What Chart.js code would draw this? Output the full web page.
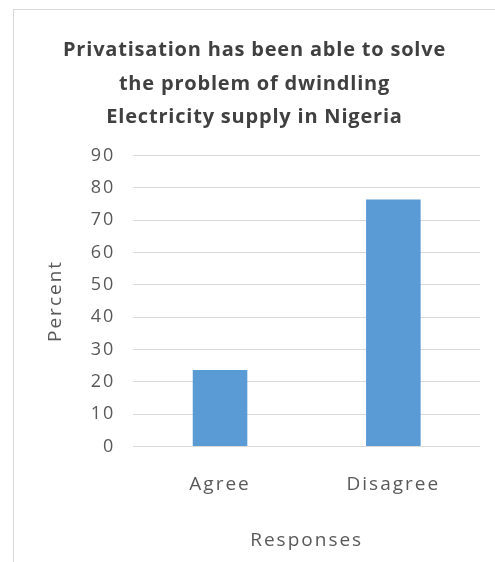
<!DOCTYPE html>
<html>
<head>
<meta charset="utf-8">
<script src="https://cdn.jsdelivr.net/npm/chart.js@4"></script>
<style>
  html, body { margin: 0; padding: 0; background: #fff; }
  #wrap { position: relative; width: 495px; height: 562px; overflow: hidden; }
  #frame { position: absolute; left: 13px; top: 9px; width: 500px; height: 600px;
           border-left: 1px solid #d9d9d9; border-top: 1px solid #d9d9d9; }
  #chart { position: absolute; left: 0; top: 0; }
</style>
</head>
<body>
<div id="wrap">
  <div id="frame"></div>
  <canvas id="chart" width="495" height="562"></canvas>
</div>
<script>
const categories = ['Agree', 'Disagree'];
const percentValues = [23.6, 76.4];
const titleLines = [
  'Privatisation has been able to solve',
  'the problem of dwindling',
  'Electricity supply in Nigeria'
];
const yMax = 90;
const yStep = 10;

const textColor = '#595959';
const fontFamily = "'Open Sans', 'Liberation Sans', sans-serif";

// axis text is spaced out a little; the title is centred on the whole frame
const textSpacing = {
  id: 'textSpacing',
  beforeDraw(chart) {
    const block = chart.titleBlock;
    if (block && !block._spaced) {
      const draw = block.draw.bind(block);
      block.draw = function () {
        const ctx = chart.ctx;
        const prev = ctx.letterSpacing;
        ctx.save();
        ctx.translate(8, 1);
        ctx.letterSpacing = '0.8px';
        draw();
        ctx.restore();
        ctx.letterSpacing = prev;
      };
      block._spaced = true;
    }
    chart.ctx.letterSpacing = '2px';
  },
  afterDraw(chart) {
    chart.ctx.letterSpacing = '0px';
  }
};

const dataResponses = {
  labels: categories,
  datasets: [{
    label: 'Percent',
    data: percentValues,
    backgroundColor: '#5b9bd5',
    borderWidth: 0,
    barPercentage: 1,
    categoryPercentage: 0.315
  }]
};

const configResponses = {
  type: 'bar',
  data: dataResponses,
  plugins: [textSpacing],
  options: {
    responsive: false,
    animation: false,
    layout: {
      padding: { left: 13, right: 15, top: 0, bottom: 10 }
    },
    scales: {
      x: {
        grid: { display: false, drawTicks: false },
        border: { display: false },
        ticks: {
          color: textColor,
          font: { family: fontFamily, size: 19 },
          padding: 27
        },
        title: {
          display: true,
          text: 'Responses',
          color: textColor,
          font: { family: fontFamily, size: 19 },
          padding: { top: 6, bottom: 0 }
        }
      },
      y: {
        min: 0,
        max: yMax,
        border: { display: false },
        grid: { color: '#d9d9d9', lineWidth: 1, drawTicks: false },
        ticks: {
          stepSize: yStep,
          color: textColor,
          font: { family: fontFamily, size: 18 },
          padding: 18
        },
        title: {
          display: true,
          text: 'Percent',
          color: textColor,
          font: { family: fontFamily, size: 19 },
          padding: { top: 31, bottom: 10 }
        }
      }
    },
    plugins: {
      legend: { display: false },
      tooltip: { enabled: false },
      title: {
        display: true,
        text: titleLines,
        color: '#404040',
        font: { family: fontFamily, size: 20, weight: 'bold', lineHeight: '33.5px' },
        padding: { top: 33, bottom: 22 }
      }
    }
  }
};

new Chart(document.getElementById('chart'), configResponses);
</script>
</body>
</html>
